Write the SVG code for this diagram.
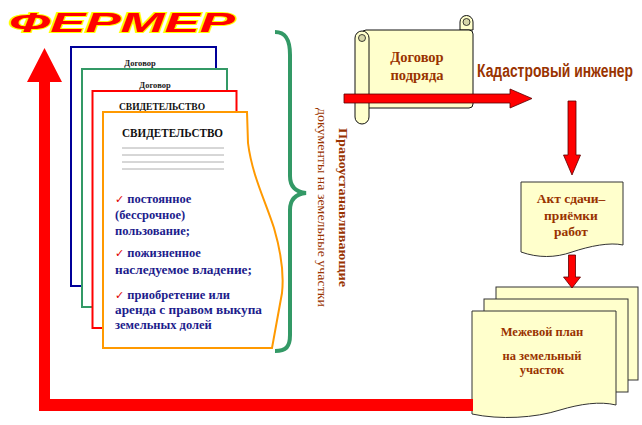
<svg xmlns="http://www.w3.org/2000/svg" width="642" height="425" viewBox="0 0 642 425">
<style>
.serif{font-family:"Liberation Serif","DejaVu Serif",serif;font-weight:bold}
.brown{fill:#993300}
.navy{fill:#1c1c8c;font-size:12.5px}
.chk{fill:#e00000;font-family:"DejaVu Sans",sans-serif;font-size:11px;font-weight:bold}
.ydoc{fill:#ffffcc;stroke:#333333;stroke-width:1}
.arrow{fill:#ff0000;stroke:#5a0000;stroke-width:0.8}
.gline{stroke:#999999;stroke-width:0.8}
</style>
<rect width="642" height="425" fill="#ffffff"/>

<g id="title">
<text x="9" y="31.5" font-family="'Liberation Sans',Arial,sans-serif" font-weight="bold" font-style="italic" font-size="28" textLength="226" lengthAdjust="spacingAndGlyphs" fill="#ff0000" stroke="#ffff00" stroke-width="2" paint-order="stroke">ФЕРМЕР</text>
</g>

<g id="doc-blue">
<rect x="71" y="47" width="145" height="239" fill="#ffffff" stroke="#000099" stroke-width="2"/>
<text class="serif" x="140" y="66" font-size="8.5" text-anchor="middle" fill="#222">Договор</text>
</g>
<g id="doc-green">
<rect x="82" y="69" width="145" height="238" fill="#ffffff" stroke="#339966" stroke-width="2"/>
<text class="serif" x="155" y="88" font-size="8.5" text-anchor="middle" fill="#222">Договор</text>
</g>
<g id="doc-red">
<rect x="92.5" y="91" width="144" height="237" fill="#ffffff" stroke="#ff0000" stroke-width="2"/>
<text class="serif" x="162" y="110" font-size="9.5" text-anchor="middle" fill="#111">СВИДЕТЕЛЬСТВО</text>
</g>
<g id="doc-main">
<path d="M103,112 H247 L248,143 C252,175 265,200 274,228 C281,252 284,275 282,293 L272,348 H103 Z" fill="#ffffff" stroke="#ff9900" stroke-width="2"/>
<text class="serif" x="172.5" y="137" font-size="12.5" text-anchor="middle" fill="#111" textLength="101" lengthAdjust="spacingAndGlyphs">СВИДЕТЕЛЬСТВО</text>
<line class="gline" x1="122" y1="148" x2="224" y2="148"/>
<line class="gline" x1="122" y1="155" x2="224" y2="155"/>
<line class="gline" x1="122" y1="162" x2="224" y2="162"/>
<line class="gline" x1="122" y1="169" x2="224" y2="169"/>
<text class="serif navy" x="115" y="203"><tspan class="chk">✓</tspan> постоянное</text>
<text class="serif navy" x="115" y="219">(бессрочное)</text>
<text class="serif navy" x="115" y="235">пользование;</text>
<text class="serif navy" x="115" y="257"><tspan class="chk">✓</tspan> пожизненное</text>
<text class="serif navy" x="115" y="274" textLength="137" lengthAdjust="spacingAndGlyphs">наследуемое владение;</text>
<text class="serif navy" x="115" y="299"><tspan class="chk">✓</tspan> приобретение или</text>
<text class="serif navy" x="115" y="314" textLength="147" lengthAdjust="spacingAndGlyphs">аренда с правом выкупа</text>
<text class="serif navy" x="115" y="329">земельных долей</text>
</g>

<g id="brace">
<path d="M275,32 C286,32 290,40 290,55 L290,176 C290,187 296,192 306,193 C296,194 290,199 290,210 L290,335 C290,347 286,351 275,351" fill="none" stroke="#339966" stroke-width="4"/>
</g>

<g id="side-label">
<text class="serif brown" transform="translate(339,128) rotate(90)" font-size="13" textLength="159" lengthAdjust="spacingAndGlyphs">Правоустанавливающие</text>
<text class="brown" transform="translate(318,108) rotate(90)" font-family="'Liberation Serif','DejaVu Serif',serif" font-size="11.5" textLength="199" lengthAdjust="spacingAndGlyphs">документы на земельные участки</text>
</g>

<g id="scroll">
<path d="M460,30 V22 A6.5,6.5 0 0 1 473,22 V30 Z" fill="#ffffcc" stroke="#111" stroke-width="1"/>
<rect x="362" y="30" width="111" height="78" rx="4" fill="#ffffcc" stroke="#111" stroke-width="1"/>
<path d="M355,38 A7,7 0 0 1 369,38 V117 A7,7 0 0 1 355,117 Z" fill="#ffffcc" stroke="#111" stroke-width="1"/>
<circle cx="362" cy="38" r="3.5" fill="#d6d6a8" stroke="#111" stroke-width="0.8"/>
<circle cx="466.5" cy="22" r="3.5" fill="#d6d6a8" stroke="#111" stroke-width="0.8"/>
<text class="serif brown" x="417" y="62" font-size="14.5" text-anchor="middle">Договор</text>
<text class="serif brown" x="417" y="80" font-size="14.5" text-anchor="middle">подряда</text>
</g>

<g id="engineer">
<text transform="translate(477,76.5) scale(0.78,1)" font-family="'Liberation Sans',Arial,sans-serif" font-weight="bold" font-size="19" textLength="200" lengthAdjust="spacingAndGlyphs" fill="#993300">Кадастровый инженер</text>
</g>

<g id="act">
<path class="ydoc" d="M521,182 H623 V245 C610,242 590,246 572,252 C555,258 538,258 521,252 Z"/>
<text class="serif brown" x="571" y="203" font-size="13.5" text-anchor="middle">Акт сдачи–</text>
<text class="serif brown" x="571" y="220" font-size="13.5" text-anchor="middle">приёмки</text>
<text class="serif brown" x="571" y="236" font-size="13.5" text-anchor="middle">работ</text>
</g>

<g id="plan">
<rect class="ydoc" x="496" y="287" width="142" height="93"/>
<rect class="ydoc" x="484" y="299" width="144" height="93"/>
<path class="ydoc" d="M472,311 H616 V405 C600,401 580,404 560,410 C535,418 500,420 472,414 Z"/>
<text class="serif brown" x="542" y="336" font-size="12.5" text-anchor="middle">Межевой план</text>
<text class="serif brown" x="542" y="360" font-size="12.5" text-anchor="middle">на земельный</text>
<text class="serif brown" x="542" y="374" font-size="12.5" text-anchor="middle">участок</text>
</g>

<g id="connectors">
<path d="M39,82 H27 L44.5,48 L62,82 H50 V399 H473 V411 H39 Z" fill="#ff0000"/>
<path class="arrow" d="M344,94 H510 V89 L532,98.5 L510,108 V103 H344 Z"/>
<path class="arrow" d="M568,101 H576 V155 H580.5 L572,175 L563.5,155 H568 Z"/>
<path class="arrow" d="M568.5,255 H575.5 V277 H580.5 L572,288 L563.5,277 H568.5 Z"/>
</g>
</svg>
